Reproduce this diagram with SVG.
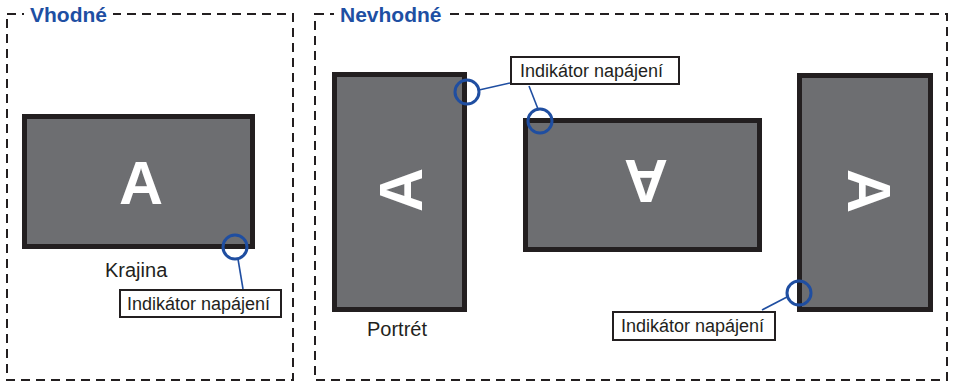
<svg xmlns="http://www.w3.org/2000/svg" width="956" height="382" viewBox="0 0 956 382">
<style>
.frame{fill:none;stroke:#231f20;stroke-width:2;stroke-dasharray:9 6}
.title{font-family:"Liberation Sans",Arial,sans-serif;font-weight:bold;font-size:21px;fill:#1e4fa3}
.mon{fill:#6d6e71;stroke:#231f20;stroke-width:5}
.big{font-family:"Liberation Sans",Arial,sans-serif;font-weight:bold;font-size:61px;fill:#ffffff;text-anchor:middle}
.cap{font-family:"Liberation Sans",Arial,sans-serif;font-size:20px;fill:#231f20}
.lbox{fill:#ffffff;stroke:#231f20;stroke-width:2}
.ltxt{font-family:"Liberation Sans",Arial,sans-serif;font-size:18px;fill:#231f20}
.ring{fill:none;stroke:#1f4ea1;stroke-width:3}
.conn{fill:none;stroke:#1f4ea1;stroke-width:1.6}
</style>
<rect width="956" height="382" fill="#ffffff"/>
<g id="frame-suitable">
<rect class="frame" x="7" y="14" width="286" height="366"/>
<rect x="24" y="4" width="89" height="20" fill="#ffffff"/>
<text class="title" x="30" y="22">Vhodné</text>
</g>
<g id="frame-unsuitable">
<rect class="frame" x="315" y="14" width="632" height="366"/>
<rect x="334" y="4" width="116" height="20" fill="#ffffff"/>
<text class="title" x="340" y="22">Nevhodné</text>
</g>
<g id="monitor-landscape">
<rect class="mon" x="24.5" y="116.5" width="228" height="130"/>
<text class="big" x="141" y="204">A</text>
<text class="cap" x="105" y="277">Krajina</text>
</g>
<g id="monitor-portrait-left">
<rect class="mon" x="334.5" y="74.5" width="130" height="235"/>
<g transform="translate(400,190) rotate(-90)"><text class="big" x="0" y="22">A</text></g>
<text class="cap" x="367" y="336">Portrét</text>
</g>
<g id="monitor-upside-down">
<rect class="mon" x="525.5" y="120.5" width="234" height="129"/>
<g transform="translate(646,182) rotate(180)"><text class="big" x="0" y="22">A</text></g>
</g>
<g id="monitor-portrait-right">
<rect class="mon" x="799.5" y="75.5" width="131" height="234"/>
<g transform="translate(870,191) rotate(90)"><text class="big" x="0" y="22">A</text></g>
</g>
<g id="connectors">
<line class="conn" x1="238" y1="259" x2="243" y2="289"/>
<line class="conn" x1="479" y1="90" x2="510" y2="83"/>
<line class="conn" x1="529" y1="86" x2="538" y2="109"/>
<line class="conn" x1="787" y1="297" x2="762" y2="310"/>
</g>
<g id="indicator-1">
<circle class="ring" cx="235" cy="247" r="12"/>
<rect class="lbox" x="120" y="290" width="161" height="27"/>
<text class="ltxt" x="127" y="310">Indikátor napájení</text>
</g>
<g id="indicator-2">
<circle class="ring" cx="467" cy="92" r="12"/>
<circle class="ring" cx="540" cy="121" r="12"/>
<rect class="lbox" x="511" y="57" width="168" height="27"/>
<text class="ltxt" x="520" y="77">Indikátor napájení</text>
</g>
<g id="indicator-3">
<circle class="ring" cx="799" cy="293" r="12"/>
<rect class="lbox" x="613" y="312" width="162" height="28"/>
<text class="ltxt" x="621" y="332">Indikátor napájení</text>
</g>
</svg>
